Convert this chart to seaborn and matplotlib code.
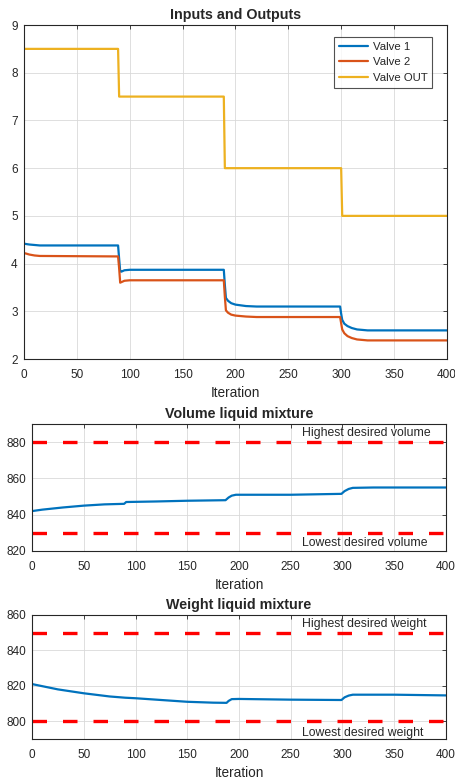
import matplotlib
matplotlib.use("Agg")
import matplotlib.pyplot as plt
import seaborn as sns
import pandas as pd

# ---------------- data ----------------
iter_v1 = [0, 2, 5, 10, 15, 89, 90, 91, 92, 95, 100, 189, 190, 191, 193, 196, 200, 210, 220,
           299, 300, 301, 303, 306, 310, 315, 325, 400]
valve1 = [4.42, 4.41, 4.40, 4.39, 4.38, 4.38, 4.10, 3.84, 3.83, 3.86, 3.87, 3.87, 3.55, 3.28,
          3.22, 3.17, 3.14, 3.11, 3.10, 3.10, 2.95, 2.82, 2.74, 2.69, 2.65, 2.62, 2.60, 2.60]
valve2 = [4.22, 4.21, 4.19, 4.17, 4.16, 4.15, 3.90, 3.60, 3.61, 3.64, 3.65, 3.65, 3.30, 3.02,
          2.97, 2.93, 2.91, 2.89, 2.88, 2.88, 2.75, 2.62, 2.54, 2.48, 2.44, 2.41, 2.39, 2.39]
iter_out = [0, 89, 90, 189, 190, 300, 301, 400]
valve_out = [8.5, 8.5, 7.5, 7.5, 6.0, 6.0, 5.0, 5.0]

iter_vol = [0, 10, 30, 50, 70, 89, 91, 120, 150, 187, 190, 193, 197, 210, 250, 299, 302, 306,
            310, 330, 400]
volume = [842, 842.8, 844, 845, 845.7, 846, 847, 847.3, 847.7, 848, 849.5, 850.5, 851, 851,
          851, 851.5, 853, 854.2, 854.8, 855, 855]
vol_high, vol_low = 880, 830

iter_w = [0, 10, 25, 50, 75, 90, 100, 125, 150, 175, 188, 190, 193, 200, 250, 299, 302, 306,
          310, 350, 400]
weight = [821, 819.8, 818, 815.8, 814, 813.3, 813, 812, 811, 810.5, 810.4, 811.5, 812.5, 812.6,
          812.2, 812, 813.5, 814.5, 815, 815, 814.6]
w_high, w_low = 850, 800

titles = ["Inputs and Outputs", "Volume liquid mixture", "Weight liquid mixture"]
xlab = "Iteration"
legend_labels = ["Valve 1", "Valve 2", "Valve OUT"]

# ---------------- style ----------------
sns.set_theme(style="white")
plt.rcParams["font.family"] = ["Liberation Sans", "DejaVu Sans"]
plt.rcParams["font.size"] = 8

BLUE = (0, 0.447, 0.741)
ORANGE = (0.85, 0.325, 0.098)
YELLOW = (0.929, 0.694, 0.125)
AXC = (0.15, 0.15, 0.15)
TXT = (0.15, 0.15, 0.15)

fig = plt.figure(figsize=(4.56, 7.82), dpi=100)
ax1 = fig.add_axes([0.0526, 0.5409, 0.9274, 0.4271])
ax2 = fig.add_axes([0.0702, 0.2954, 0.9078, 0.1624])
ax3 = fig.add_axes([0.0702, 0.0550, 0.9078, 0.1586])


def style(ax):
    for s in ax.spines.values():
        s.set_color(AXC)
        s.set_linewidth(0.8)
    ax.tick_params(direction="in", length=3, width=0.6, colors=AXC, labelsize=8.5,
                   top=True, right=True, labelcolor=TXT)
    ax.tick_params(axis="x", pad=7.5)
    ax.tick_params(axis="y", pad=4.5)
    ax.grid(True, color=(0.85, 0.85, 0.85), linewidth=0.6)
    ax.set_axisbelow(True)
    ax.set_xlim(0, 400)
    ax.set_xticks(range(0, 401, 50))
    ax.set_xlabel(xlab, fontsize=9.8, color=TXT, labelpad=3.5)


df1 = pd.DataFrame({"x": iter_v1, "y": valve1})
df2 = pd.DataFrame({"x": iter_v1, "y": valve2})
dfo = pd.DataFrame({"x": iter_out, "y": valve_out})
sns.lineplot(data=df1, x="x", y="y", ax=ax1, color=BLUE, lw=1.6, label=legend_labels[0],
             estimator=None, sort=False)
sns.lineplot(data=df2, x="x", y="y", ax=ax1, color=ORANGE, lw=1.6, label=legend_labels[1],
             estimator=None, sort=False)
sns.lineplot(data=dfo, x="x", y="y", ax=ax1, color=YELLOW, lw=1.6, label=legend_labels[2],
             estimator=None, sort=False)
style(ax1)
ax1.set_ylim(2, 9)
ax1.set_ylabel("")
ax1.set_title(titles[0], fontsize=10.3, fontweight="bold", pad=4)
leg = ax1.legend(loc="upper right", bbox_to_anchor=(0.965, 0.964), fontsize=8.2,
                 frameon=True, fancybox=False, handlelength=2.6, borderpad=0.4,
                 labelspacing=0.5, handletextpad=0.4, borderaxespad=0)
leg.get_frame().set_edgecolor(AXC)
leg.get_frame().set_linewidth(0.8)
for t in leg.get_texts():
    t.set_color(TXT)

dash = (0, (4.35, 4.8))

dfv = pd.DataFrame({"x": iter_vol, "y": volume})
sns.lineplot(data=dfv, x="x", y="y", ax=ax2, color=BLUE, lw=1.6, estimator=None, sort=False)
ax2.axhline(vol_high, color="red", lw=2.4, linestyle=dash)
ax2.axhline(vol_low, color="red", lw=2.4, linestyle=dash)
style(ax2)
ax2.set_ylim(820, 890)
ax2.set_yticks([820, 840, 860, 880])
ax2.set_ylabel("")
ax2.set_title(titles[1], fontsize=10.3, fontweight="bold", pad=4)
ax2.text(261, vol_high + 1.5, "Highest desired volume", fontsize=8.8, color=TXT, va="bottom")
ax2.text(261, 824.5, "Lowest desired volume", fontsize=8.8, color=TXT, va="center")

dfw = pd.DataFrame({"x": iter_w, "y": weight})
sns.lineplot(data=dfw, x="x", y="y", ax=ax3, color=BLUE, lw=1.6, estimator=None, sort=False)
ax3.axhline(w_high, color="red", lw=2.4, linestyle=dash)
ax3.axhline(w_low, color="red", lw=2.4, linestyle=dash)
style(ax3)
ax3.set_ylim(790, 860)
ax3.set_yticks([800, 820, 840, 860])
ax3.set_ylabel("")
ax3.set_title(titles[2], fontsize=10.3, fontweight="bold", pad=4)
ax3.text(261, w_high + 1.5, "Highest desired weight", fontsize=8.8, color=TXT, va="bottom")
ax3.text(261, 793.5, "Lowest desired weight", fontsize=8.8, color=TXT, va="center")

fig.savefig("out.png", dpi=100)
